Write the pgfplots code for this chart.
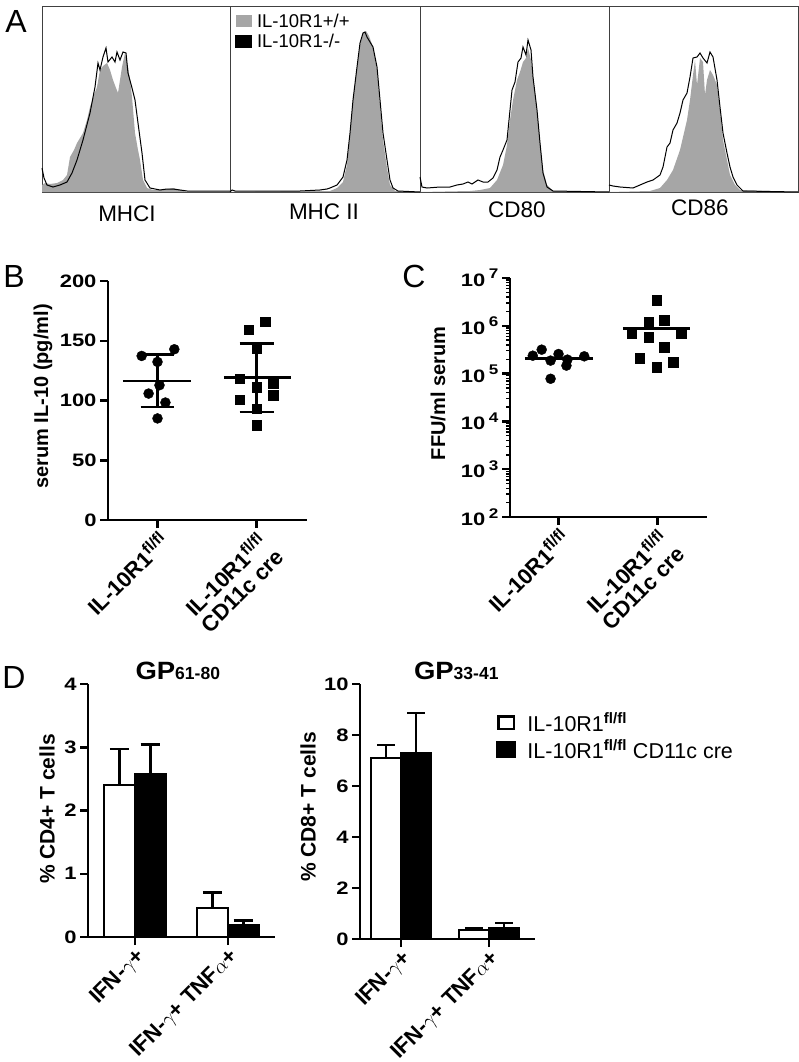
\documentclass[border=0pt]{standalone}
\usepackage{graphicx}
\usepackage{pgfplots}
\pgfplotsset{compat=1.18}
\usepackage{fontspec}
\setmainfont{Liberation Sans}
\newcommand{\fs}[1]{\fontsize{#1}{#1}\selectfont}
\newcommand{\sx}[1]{\scalebox{1.22}[1]{#1}}
\newcommand{\tl}[1]{\sx{10\,\raisebox{0.42em}{\fs{14}#1}}}
\newcommand{\ff}{\textsuperscript{\fs{16}fl/fl}}
\tikzset{hlab/.style={font=\fs{22.5}, anchor=center}}
\begin{document}
\begin{tikzpicture}
\useasboundingbox (0,0) rectangle (799pt,-1062pt);
\pgfplotsset{
  hist/.style={scale only axis, height=186pt, y dir=reverse, ymin=6, ymax=192,
    xtick=\empty, ytick=\empty, axis line style={black!75, line width=0.8pt}, clip=false},
  gfill/.style={fill=black!35, draw=none, forget plot},
  bline/.style={black, line width=1pt, forget plot},
  prism/.style={scale only axis, axis lines=left, axis line style={-, line width=2.5pt},
    tick align=outside, major tick length=8pt, minor tick length=4pt,
    every major tick/.append style={line width=2.5pt, black},
    every minor tick/.append style={line width=1.4pt, black},
    /pgf/number format/assume math mode=true,
    yticklabel style={font=\bfseries\fs{18}},
    yticklabel={\sx{\pgfmathprintnumber{\tick}}},
    xticklabel style={font=\bfseries\fs{22}, rotate=45, anchor=north east, align=center, inner sep=1pt},
    ylabel style={font=\bfseries\fs{20}, anchor=center, rotate=0},
    clip=false},
  seg/.style={black, line width=2.5pt, forget plot},
}
% ---------- Panel A ----------
\node[font=\fs{32}] at (16pt,-21pt) {A};
\begin{axis}[hist, at={(42pt,-192pt)}, anchor=south west, width=188pt, xmin=42, xmax=230]
\addplot[gfill] coordinates {(42,192) (42,185) (45,183) (50,184) (57,183) (63,180) (67,175) (70,157) (74,150) (77,143) (80,138) (83,133) (87,120) (90,107) (94,95) (97,87) (100,70) (103,66) (107,63) (110,70) (113,80) (116,88) (118,93) (120,80) (122,67) (125,53) (128,67) (130,80) (132,97) (135,133) (138,150) (140,160) (143,180) (147,188) (153,190) (160,190) (167,189) (173,188) (180,190) (187,192) (230,192)};
\addplot[bline] coordinates {(42,168) (44,178) (47,185) (53,187) (60,185) (67,182) (72,173) (77,160) (83,140) (90,113) (95,87) (98,63) (100,70) (103,57) (106,48) (108,62) (112,57) (115,62) (117,52) (120,60) (123,52) (126,53) (128,73) (132,88) (135,100) (138,123) (142,153) (145,180) (150,188) (160,190) (167,189) (173,189) (180,190) (187,191) (230,191)};
\end{axis}
\begin{axis}[hist, at={(230pt,-192pt)}, anchor=south west, width=190pt, xmin=230, xmax=420,
  legend style={at={(axis description cs:0.02,0.975)}, anchor=north west, draw=none, fill=none,
    font=\fs{18.5}, row sep=1pt, column sep=3pt, inner sep=1pt}, legend cell align=left]
\addplot[fill=black!35, draw=none, legend image code/.code={\fill[black!35] (0pt,-6pt) rectangle (16pt,6pt);}] coordinates {(230,192) (330,191) (337,188) (343,182) (347,165) (350,135) (353,100) (357,68) (360,45) (363,33) (366,31) (369,36) (373,47) (377,70) (380,105) (383,140) (387,168) (390,185) (395,191) (420,192)};
\addlegendentry{IL-10R1+/+}
\addplot[black, line width=1pt, legend image code/.code={\fill[black] (0pt,-6pt) rectangle (16pt,6pt);}] coordinates {(230,192) (232,190) (235,191) (260,191) (300,191) (320,190) (327,189) (330,188) (337,185) (343,177) (347,160) (350,133) (353,100) (357,67) (360,43) (363,33) (365,32) (367,37) (370,42) (373,47) (377,67) (380,100) (383,133) (387,160) (390,180) (393,188) (398,191) (420,192)};
\addlegendentry{IL-10R1-/-}
\end{axis}
\begin{axis}[hist, at={(420pt,-192pt)}, anchor=south west, width=189pt, xmin=420, xmax=609]
\addplot[gfill] coordinates {(420,192) (470,191) (480,190) (490,188) (497,180) (503,165) (507,145) (510,120) (513,100) (517,80) (520,72) (523,62) (526,58) (528,48) (531,60) (534,85) (537,112) (540,142) (543,170) (547,185) (553,191) (609,192)};
\addplot[bline] coordinates {(420,177) (422,187) (427,188) (440,187) (450,187) (457,185) (463,184) (468,182) (472,184) (478,180) (483,182) (488,182) (493,178) (497,170) (500,157) (503,150) (507,140) (510,110) (512,90) (515,82) (518,62) (521,58) (523,47) (526,55) (528,40) (531,50) (533,77) (537,110) (540,143) (543,173) (547,187) (553,191) (609,192)};
\end{axis}
\begin{axis}[hist, at={(609pt,-192pt)}, anchor=south west, width=189pt, xmin=609, xmax=798]
\addplot[gfill] coordinates {(609,192) (650,191) (660,188) (667,180) (673,170) (680,150) (687,120) (690,100) (693,75) (695,60) (697,85) (700,58) (703,62) (705,95) (707,80) (710,70) (713,75) (717,85) (720,110) (723,140) (727,160) (730,175) (735,185) (740,190) (798,192)};
\addplot[bline] coordinates {(609,185) (613,186) (620,187) (633,188) (640,185) (647,182) (653,180) (660,175) (663,167) (667,147) (670,143) (673,130) (677,123) (680,113) (683,100) (687,93) (690,77) (693,58) (697,57) (700,53) (703,58) (707,63) (710,52) (713,57) (717,80) (720,107) (723,133) (727,153) (730,167) (733,177) (737,185) (743,191) (798,192)};
\end{axis}
\node[hlab] at (127pt,-214pt) {MHCI};
\node[hlab] at (324pt,-212pt) {MHC II};
\node[hlab] at (517pt,-210pt) {CD80};
\node[hlab] at (700pt,-208pt) {CD86};
% ---------- Panel B ----------
\node[font=\fs{32}] at (14pt,-276pt) {B};
\begin{axis}[prism, at={(108pt,-520pt)}, anchor=south west, width=199pt, height=239pt,
  xmin=-0.5, xmax=1.51, ymin=0, ymax=200, ytick={0,50,100,150,200}, xtick={0,1},
  xticklabels={{IL-10R1\ff}, {IL-10R1\ff\\CD11c cre}},
  ylabel={serum IL-10 (pg/ml)}, ylabel style={at={(axis description cs:-0.327,0.517)}}]
\addplot[only marks, mark=*, mark size=5pt, black] coordinates {(-0.16,137.3) (0.17,142.9) (0,132.3) (0.02,112.8) (-0.09,105.8) (0.08,98.3) (0,85.0)};
\addplot[only marks, mark=square*, mark size=4.8pt, black] coordinates {(1.09,165.8) (0.92,159.3) (1,143.5) (0.83,118.4) (1,110.9) (1.17,114.2) (0.83,100.8) (1.17,104.5) (1,93.3) (1,79.4)};
\addplot[seg] coordinates {(-0.35,116.4) (0.34,116.4)};
\addplot[seg] coordinates {(0,94.7) (0,138.5)};
\addplot[seg] coordinates {(-0.17,138.5) (0.17,138.5)};
\addplot[seg] coordinates {(-0.17,94.7) (0.17,94.7)};
\addplot[seg] coordinates {(0.67,119.2) (1.35,119.2)};
\addplot[seg] coordinates {(1,90.5) (1,147.6)};
\addplot[seg] coordinates {(0.83,147.6) (1.18,147.6)};
\addplot[seg] coordinates {(0.83,90.5) (1.18,90.5)};
\end{axis}
% ---------- Panel C ----------
\node[font=\fs{32}] at (414pt,-276pt) {C};
\begin{axis}[prism, at={(510pt,-517pt)}, anchor=south west, width=197pt, height=239pt,
  xmin=-0.49, xmax=1.5, ymode=log, ymin=100, ymax=1e7,
  ytick={100,1000,10000,100000,1000000,10000000},
  yticklabels={\tl{2},\tl{3},\tl{4},\tl{5},\tl{6},\tl{7}}, xtick={0,1},
  xticklabels={{IL-10R1\ff}, {IL-10R1\ff\\CD11c cre}},
  ylabel={FFU/ml serum}, ylabel style={at={(axis description cs:-0.365,0.517)}}]
\addplot[only marks, mark=*, mark size=5pt, black] coordinates {(-0.26,2.37e5) (-0.17,3.17e5) (0,2.57e5) (-0.08,1.87e5) (0.09,1.96e5) (0.26,2.30e5) (0.08,1.47e5) (-0.08,7.8e4)};
\addplot[only marks, mark=square*, mark size=4.8pt, black] coordinates {(0.99,3.47e6) (0.91,1.18e6) (1.07,1.30e6) (0.74,7.07e5) (1.24,6.84e5) (0.91,5.83e5) (1.07,3.60e5) (0.82,2.12e5) (1.16,1.75e5) (0.99,1.37e5)};
\addplot[seg] coordinates {(-0.34,2.05e5) (0.35,2.05e5)};
\addplot[seg] coordinates {(0.65,8.85e5) (1.33,8.85e5)};
\end{axis}
% ---------- Panel D ----------
\node[font=\fs{32}] at (14pt,-677pt) {D};
\begin{axis}[prism, at={(88pt,-937pt)}, anchor=south west, width=187pt, height=253pt,
  xmin=-0.505, xmax=1.505, ymin=0, ymax=4, ytick={0,1,2,3,4}, xtick={0,1},
  xticklabels={{IFN-$\gamma$+}, {IFN-$\gamma$+ TNF$\alpha$+}},
  ylabel={\% CD4+ T cells}, ylabel style={font=\bfseries\fs{21}, at={(axis description cs:-0.219,0.506)}},
  title={\scalebox{1.1}[1]{\fs{25}GP}{\fs{17.5}61-80}}, title style={at={(axis description cs:0.48,1)}, anchor=base, yshift=-1pt, font=\bfseries}]
\addplot[ybar, bar width=0.333, bar shift=-0.1667, fill=white, draw=black, line width=2.5pt] coordinates {(0,2.40) (1,0.46)};
\addplot[ybar, bar width=0.333, bar shift=0.1667, fill=black, draw=black, line width=2.5pt] coordinates {(0,2.58) (1,0.185)};
\addplot[seg] coordinates {(-0.1667,2.40) (-0.1667,2.97)};
\addplot[seg] coordinates {(-0.27,2.97) (-0.06,2.97)};
\addplot[seg] coordinates {(0.1667,2.58) (0.1667,3.04)};
\addplot[seg] coordinates {(0.06,3.04) (0.27,3.04)};
\addplot[seg] coordinates {(0.8333,0.46) (0.8333,0.70)};
\addplot[seg] coordinates {(0.73,0.70) (0.94,0.70)};
\addplot[seg] coordinates {(1.1667,0.185) (1.1667,0.26)};
\addplot[seg] coordinates {(1.06,0.26) (1.27,0.26)};
\end{axis}
\begin{axis}[prism, at={(360pt,-939pt)}, anchor=south west, width=175pt, height=255pt,
  xmin=-0.466, xmax=1.523, ymin=0, ymax=10, ytick={0,2,4,6,8,10}, xtick={0,1},
  xticklabels={{IFN-$\gamma$+}, {IFN-$\gamma$+ TNF$\alpha$+}},
  ylabel={\% CD8+ T cells}, ylabel style={font=\bfseries\fs{21}, at={(axis description cs:-0.297,0.518)}},
  title={\scalebox{1.1}[1]{\fs{25}GP}{\fs{17.5}33-41}}, title style={at={(axis description cs:0.55,1)}, anchor=base, yshift=-1pt, font=\bfseries},
  legend style={at={(axis description cs:0.77,0.9)}, anchor=north west, draw=none, fill=none,
    font=\fs{21.5}, row sep=3pt, column sep=9pt, inner sep=1pt}, legend cell align=left]
\addplot[ybar, bar width=0.34, bar shift=-0.17, fill=white, draw=black, line width=2.5pt,
  legend image code/.code={\draw[black, fill=white, line width=2.3pt] (1.2pt,-6.3pt) rectangle (16.8pt,6.3pt);}] coordinates {(0,7.09) (1,0.35)};
\addlegendentry{IL-10R1\textsuperscript{\textbf{fl/fl}}}
\addplot[ybar, bar width=0.34, bar shift=0.17, fill=black, draw=black, line width=2.5pt,
  legend image code/.code={\fill[black] (0pt,-7.5pt) rectangle (18pt,7.5pt);}] coordinates {(0,7.28) (1,0.42)};
\addlegendentry{IL-10R1\textsuperscript{\textbf{fl/fl}} CD11c cre}
\addplot[seg] coordinates {(-0.17,7.09) (-0.17,7.6)};
\addplot[seg] coordinates {(-0.27,7.6) (-0.07,7.6)};
\addplot[seg] coordinates {(0.17,7.28) (0.17,8.87)};
\addplot[seg] coordinates {(0.07,8.87) (0.27,8.87)};
\addplot[seg] coordinates {(0.83,0.35) (0.83,0.44)};
\addplot[seg] coordinates {(0.73,0.44) (0.93,0.44)};
\addplot[seg] coordinates {(1.17,0.42) (1.17,0.62)};
\addplot[seg] coordinates {(1.07,0.62) (1.27,0.62)};
\end{axis}
\end{tikzpicture}
\end{document}
